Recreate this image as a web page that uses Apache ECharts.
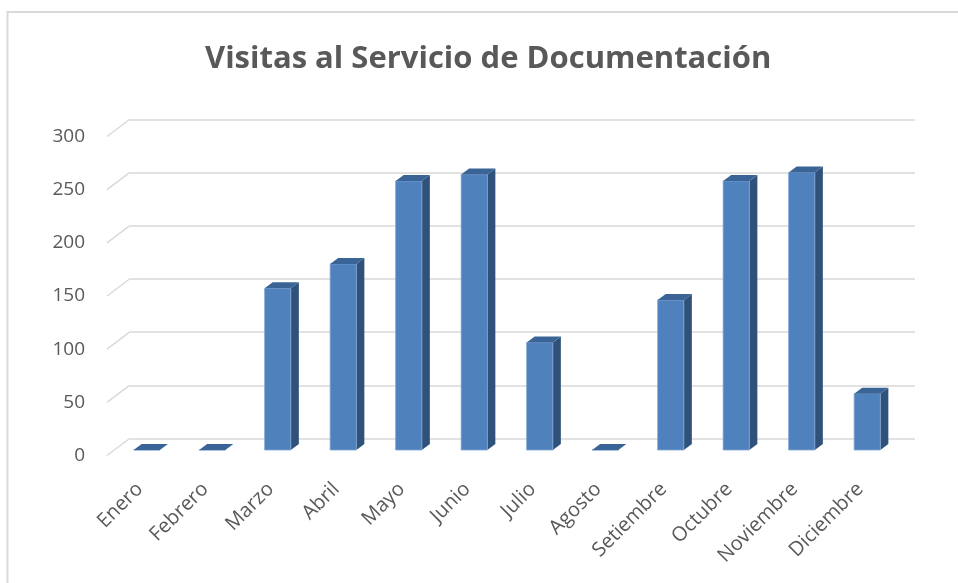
<!DOCTYPE html>
<html>
<head>
<meta charset="utf-8">
<script src="https://cdn.jsdelivr.net/npm/echarts@6/dist/echarts.min.js"></script>
<style>
  html, body { margin: 0; padding: 0; background: #ffffff; }
  #main { width: 958px; height: 583px; }
</style>
</head>
<body>
<div id="main"></div>
<script>
// datos del gráfico
const meses = ["Enero", "Febrero", "Marzo", "Abril", "Mayo", "Junio", "Julio",
  "Agosto", "Setiembre", "Octubre", "Noviembre", "Diciembre"];
const visitas = [0, 0, 152, 175, 253, 259, 101, 0, 141, 253, 261, 53];
const ticks = [0, 50, 100, 150, 200, 250, 300];

const font = "'Open Sans', 'Liberation Sans', sans-serif";
const textGray = "#595959";
const gridGray = "#d9d9d9";
// desplazamiento de la profundidad de cada barra
const depthX = 8, depthY = 6;
// desplazamiento entre el plano frontal y la pared de fondo
const wallX = 22.5, wallY = 17;

const chart = echarts.init(document.getElementById('main'), null, { renderer: 'canvas' });

function renderBar(params, api) {
  const cat = api.value(0);
  const base = api.coord([cat, 0]);
  const top = api.coord([cat, api.value(1)]);
  const bw = api.size([1, 0])[0] * 0.4;
  const x0 = base[0] - bw / 2, x1 = base[0] + bw / 2;
  const yb = base[1], yt = top[1];
  return {
    type: 'group',
    children: [
      {
        type: 'polygon',
        shape: { points: [[x1, yt], [x1 + depthX, yt - depthY], [x1 + depthX, yb - depthY], [x1, yb]] },
        style: { fill: '#30527a' }
      },
      {
        type: 'rect',
        shape: { x: x0, y: yt, width: bw, height: yb - yt },
        style: { fill: '#4f81bd', stroke: '#7fa3d3', lineWidth: 0.8 }
      },
      {
        type: 'polygon',
        shape: { points: [[x0, yt], [x0 + depthX, yt - depthY], [x1 + depthX, yt - depthY], [x1, yt]] },
        style: { fill: '#3b6496' }
      }
    ]
  };
}

function renderDiagonal(params, api) {
  const p = api.coord([0, api.value(0)]);
  return {
    type: 'line',
    shape: { x1: p[0], y1: p[1], x2: p[0] - wallX, y2: p[1] + wallY },
    style: { stroke: gridGray, lineWidth: 1.5 }
  };
}

chart.setOption({
  backgroundColor: '#ffffff',
  animation: false,
  title: {
    text: 'Visitas al Servicio de Documentación',
    left: 200,
    top: 39,
    textStyle: { fontFamily: font, fontSize: 31, fontWeight: 'bold', color: textGray }
  },
  graphic: [{
    type: 'rect',
    shape: { x: 7.5, y: 12, width: 1000, height: 700 },
    style: { fill: 'none', stroke: gridGray, lineWidth: 2 },
    silent: true
  }],
  grid: [
    // pared de fondo
    { left: 129.5, right: 43, top: 119.5, height: 319 },
    // plano de las barras
    { left: 114, right: 58, top: 131, height: 319 },
    // plano frontal (etiquetas del eje)
    { left: 107, right: 58, top: 136.5, height: 319 }
  ],
  xAxis: [
    { gridIndex: 0, type: 'value', min: 0, max: 1, show: false },
    {
      gridIndex: 1, type: 'category', data: meses,
      axisLine: { show: false }, axisTick: { show: false },
      axisLabel: {
        rotate: 45, margin: 29, padding: [0, 10, 0, 0],
        fontFamily: font, fontSize: 20, color: textGray, interval: 0
      }
    },
    { gridIndex: 2, type: 'value', show: false }
  ],
  yAxis: [
    {
      gridIndex: 0, type: 'value', min: 0, max: 300, interval: 50,
      axisLine: { show: false }, axisTick: { show: false }, axisLabel: { show: false },
      splitLine: { lineStyle: { color: gridGray, width: 1.5 } }
    },
    { gridIndex: 1, type: 'value', min: 0, max: 300, interval: 50, show: false },
    {
      gridIndex: 2, type: 'value', min: 0, max: 300, interval: 50,
      axisLine: { show: false }, axisTick: { show: false }, splitLine: { show: false },
      axisLabel: { margin: 22, fontFamily: font, fontSize: 19, color: textGray }
    }
  ],
  series: [
    {
      type: 'custom',
      xAxisIndex: 0, yAxisIndex: 0,
      renderItem: renderDiagonal,
      data: ticks.map(t => [t]),
      z: 1
    },
    {
      type: 'custom',
      xAxisIndex: 1, yAxisIndex: 1,
      renderItem: renderBar,
      data: visitas.map((v, i) => [i, v]),
      z: 3
    }
  ]
});
</script>
</body>
</html>
